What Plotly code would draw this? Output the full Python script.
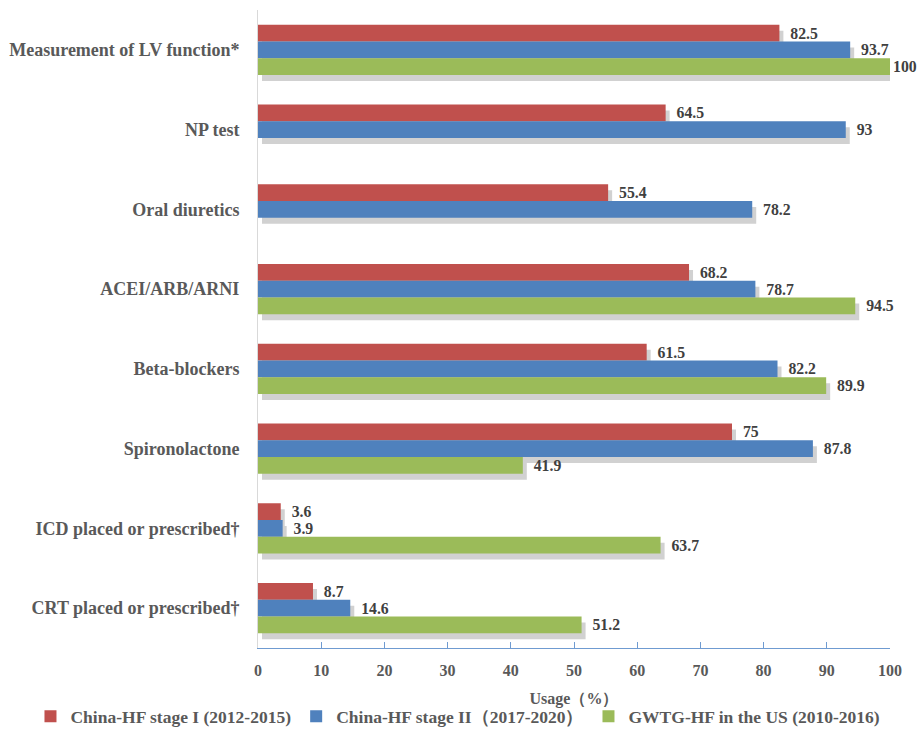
import plotly.graph_objects as go

categories = [
    "Measurement of LV function*",
    "NP test",
    "Oral diuretics",
    "ACEI/ARB/ARNI",
    "Beta-blockers",
    "Spironolactone",
    "ICD placed or prescribed†",
    "CRT placed or prescribed†",
]
stage1 = [82.5, 64.5, 55.4, 68.2, 61.5, 75, 3.6, 8.7]
stage2 = [93.7, 93, 78.2, 78.7, 82.2, 87.8, 3.9, 14.6]
gwtg = [100, None, None, 94.5, 89.9, 41.9, 63.7, 51.2]

series_names = [
    "China-HF stage I (2012-2015)",
    "China-HF stage II（2017-2020）",
    "GWTG-HF in the US (2010-2016)",
]
series_values = [stage1, stage2, gwtg]
colors = ["#C0504D", "#4F81BD", "#9BBB59"]

x_ticks = list(range(0, 101, 10))

FONT = "Liberation Serif, Times New Roman, serif"
fig = go.Figure()

# soft drop shadows (same data on a slightly shifted, hidden axis pair)
for name, vals in zip(series_names, series_values):
    fig.add_trace(go.Bar(
        y=categories, x=vals, orientation="h", name=name,
        marker=dict(color="rgba(70,70,70,0.25)", line=dict(width=0)),
        showlegend=False, hoverinfo="skip", xaxis="x", yaxis="y",
    ))


def label_template(v):
    if v is None:
        return ""
    # Excel pulls the label inward when it would leave the chart area
    return "%{text}" if v >= 99 else "  %{text}"


for name, vals, c in zip(series_names, series_values, colors):
    fig.add_trace(go.Bar(
        y=categories, x=vals, orientation="h", name=name,
        marker=dict(color=c, line=dict(width=0)),
        text=[("" if v is None else f"{v:g}") for v in vals],
        texttemplate=[label_template(v) for v in vals],
        textposition="outside",
        cliponaxis=False,
        textfont=dict(family=FONT, size=16, color="#404040", weight="bold"),
        xaxis="x2", yaxis="y2",
    ))

n = len(categories)
px_per_cat = 638 / n
dy = 6 / px_per_cat
dx = 4 / 6.32

fig.update_layout(
    width=917, height=753,
    margin=dict(l=258, r=27, t=10, b=105, autoexpand=False),
    plot_bgcolor="white", paper_bgcolor="white",
    barmode="group", bargap=0.37, bargroupgap=0,
    font=dict(family=FONT, color="#595959"),
    xaxis=dict(range=[0 - dx, 100 - dx], visible=False, fixedrange=True),
    yaxis=dict(range=[n - 0.5 - dy, -0.5 - dy], visible=False, type="category",
               categoryorder="array", categoryarray=categories),
    xaxis2=dict(
        overlaying="x", side="bottom", range=[0, 100],
        tickvals=x_ticks, showgrid=False, zeroline=False,
        showline=True, linecolor="#6F9BD1", linewidth=1,
        ticks="inside", ticklen=6, tickcolor="#6F9BD1",
        tickfont=dict(family=FONT, size=16, color="#595959", weight="bold"),
        ticklabelstandoff=8,
        title=dict(text="Usage（%）", standoff=14,
                   font=dict(family=FONT, size=16, color="#595959", weight="bold")),
    ),
    yaxis2=dict(
        overlaying="y", range=[n - 0.5, -0.5], type="category",
        categoryorder="array", categoryarray=categories,
        showgrid=False, zeroline=False,
        showline=True, linecolor="#D9D9D9", linewidth=1,
        ticks="", ticklabelstandoff=14,
        tickfont=dict(family=FONT, size=18, color="#595959", weight="bold"),
    ),
    legend=dict(
        orientation="h", xref="paper", x=-0.36, xanchor="left",
        yref="paper", y=-0.107, yanchor="middle",
        font=dict(family=FONT, size=17.5, color="#595959", weight="bold"),
        itemwidth=30, tracegroupgap=0,
    ),
)

fig.write_html("out.html")
